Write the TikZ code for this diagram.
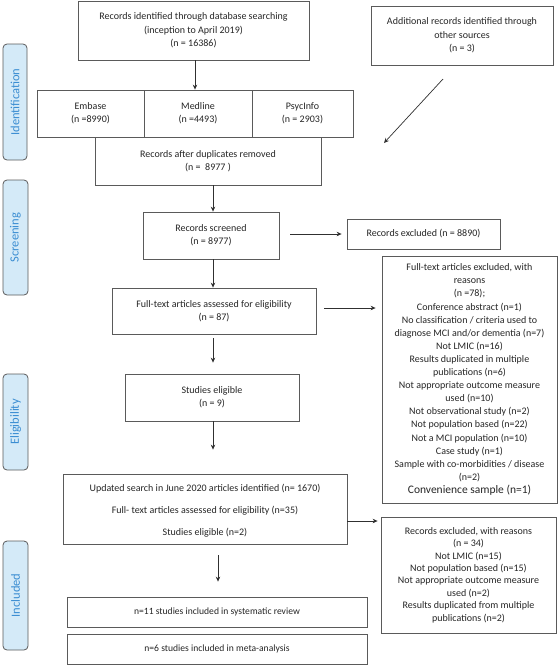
\documentclass[tikz,border=0pt]{standalone}
\usepackage{fontspec}
\setmainfont{Carlito}
\usetikzlibrary{arrows.meta}
\definecolor{boxline}{HTML}{5A5A5A}
\definecolor{arrline}{HTML}{303030}
\definecolor{lblfill}{HTML}{D4EAF8}
\definecolor{lbltext}{HTML}{3A8DD2}
\tikzset{
  box/.style={draw=boxline, line width=0.8pt, fill=white, inner sep=0pt, align=center,
    font=\fontsize{10}{13.4}\selectfont, text=black!85},
  lbl/.style={draw=boxline, line width=0.8pt, fill=lblfill, rounded corners=4pt, rotate=90,
    inner sep=0pt, text=lbltext, font=\fontsize{12.5}{14}\selectfont},
  arr/.style={draw=arrline, line width=0.7pt, -{Stealth[length=5pt,width=4.5pt]}}
}
\begin{document}
\begin{tikzpicture}[x=1pt,y=-1pt]
\useasboundingbox (0,0) rectangle (560,665);
% boxes
\node[box, minimum width=231pt, minimum height=59pt] (top) at (193.5,30.5)
  {Records identified through database searching\\(inception to April 2019)\\(n = 16386)};
\node[box, minimum width=182pt, minimum height=59pt] (add) at (462,35.5)
  {Additional records identified through\\other sources\\(n = 3)};
\node[box, minimum width=107pt, minimum height=47pt] (emb) at (90.5,113.5) {Embase\\(n =8990)};
\node[box, minimum width=108pt, minimum height=47pt] (med) at (198,113.5) {Medline\\(n =4493)};
\node[box, minimum width=101pt, minimum height=47pt] (psy) at (302.5,113.5) {PsycInfo\\(n = 2903)};
\node[box, minimum width=226pt, minimum height=48pt] (dup) at (208,161)
  {Records after duplicates removed\\(n =\ \ 8977 )};
\node[box, minimum width=136pt, minimum height=47pt] (scr) at (211,235.5)
  {Records screened\\(n = 8977)};
\node[box, minimum width=153pt, minimum height=30pt] (ex1) at (423.5,234)
  {Records excluded (n = 8890)};
\node[box, minimum width=204pt, minimum height=46pt] (ft) at (214,311)
  {Full-text articles assessed for eligibility\\(n = 87)};
\node[box, minimum width=175pt, minimum height=247pt, font=\fontsize{10}{13.1}\selectfont] (ftx) at (469.5,379.5)
  {Full-text articles excluded, with\\reasons\\(n =78);\\Conference abstract (n=1)\\No classification / criteria used to\\diagnose MCI and/or dementia (n=7)\\Not LMIC (n=16)\\Results duplicated in multiple\\publications (n=6)\\Not appropriate outcome measure\\used (n=10)\\Not observational study (n=2)\\Not population based (n=22)\\Not a MCI population (n=10)\\Case study (n=1)\\Sample with co-morbidities / disease\\(n=2)\\{\fontsize{11.5}{14}\selectfont Convenience sample (n=1)}};
\node[box, minimum width=174pt, minimum height=47pt] (eli) at (212,397.5)
  {Studies eligible\\(n = 9)};
\node[box, minimum width=284pt, minimum height=70pt, font=\fontsize{10}{22}\selectfont] (upd) at (205,509)
  {\rule{0pt}{11pt}Updated search in June 2020 articles identified (n= 1670)\\Full- text articles assessed for eligibility (n=35)\\Studies eligible (n=2)};
\node[box, minimum width=175pt, minimum height=116pt, font=\fontsize{10}{12.4}\selectfont] (ex2) at (468.5,575)
  {Records excluded, with reasons\\(n = 34)\\Not LMIC (n=15)\\Not population based (n=15)\\Not appropriate outcome measure\\used (n=2)\\Results duplicated from multiple\\publications (n=2)};
\node[box, minimum width=300pt, minimum height=30pt, font=\fontsize{9.6}{12}\selectfont] (sys) at (217,612)
  {n=11 studies included in systematic review};
\node[box, minimum width=300pt, minimum height=30pt, font=\fontsize{9.6}{12}\selectfont] (meta) at (217,649)
  {n=6 studies included in meta-analysis};
% stage labels
\node[lbl, minimum width=116pt, minimum height=24pt] (lid) at (15,102) {Identification};
\node[lbl, minimum width=115pt, minimum height=25pt] (lsc) at (15.5,237.5) {Screening};
\node[lbl, minimum width=96pt, minimum height=25pt] (lel) at (15.5,422) {Eligibility};
\node[lbl, minimum width=109pt, minimum height=25pt] (lin) at (15.5,595.5) {Included};
% arrows
\coordinate (d1) at (443,79);
\coordinate (d2) at (384,143);
\draw[arr] (d1) -- (d2);
\draw[arr] (med.north |- top.south) ++(-3,0) coordinate (t1) -- (t1 |- med.north);
\draw[arr] (scr.north |- dup.south) ++(2,0) coordinate (t2) -- (t2 |- scr.north);
\draw[arr, shorten <=11pt, shorten >=5pt] (scr.east |- ex1.west) -- (ex1.west);
\draw[arr] (ft.north |- scr.south) ++(-1,0) coordinate (t3) -- (t3 |- ft.north);
\draw[arr, shorten <=8pt, shorten >=6pt] (ft.east |- 0,308) coordinate (t4) -- (t4 -| ftx.west);
\draw[arr, shorten <=4pt, shorten >=11pt] (ft.south) ++(-1,0) coordinate (t5) -- (t5 |- eli.north);
\draw[arr, shorten >=24pt] (eli.south) ++(1,0) coordinate (t6) -- (t6 |- upd.north);
\draw[arr, shorten >=3pt] (upd.east |- 0,521) coordinate (t7) -- (t7 -| ex2.west);
\draw[arr, shorten <=11pt, shorten >=15pt] (upd.south) ++(13,0) coordinate (t8) -- (t8 |- sys.north);
\end{tikzpicture}
\end{document}
